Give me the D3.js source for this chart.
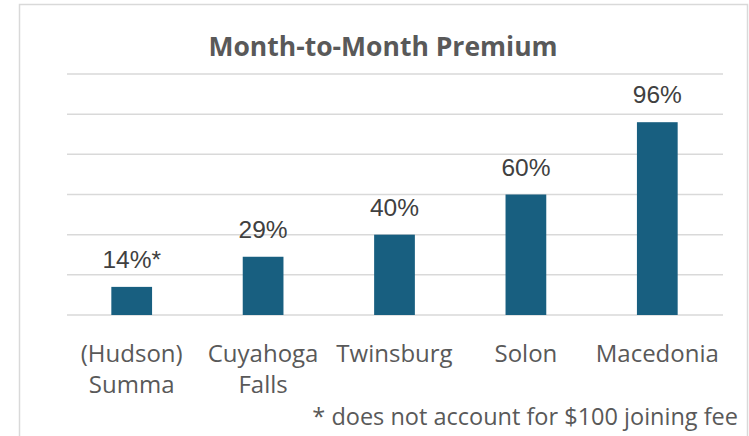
<!DOCTYPE html>
<html>
<head>
<meta charset="utf-8">
<script src="https://cdn.jsdelivr.net/npm/d3@7"></script>
<style>
  html, body { margin: 0; padding: 0; background: #fff; }
  svg { display: block; }
</style>
</head>
<body>
<svg id="chart" width="749" height="436"></svg>
<script>
// data
var categories = [["(Hudson)", "Summa"], ["Cuyahoga", "Falls"], ["Twinsburg"], ["Solon"], ["Macedonia"]];
var values = [0.14, 0.29, 0.40, 0.60, 0.96];
var valueLabels = ["14%*", "29%", "40%", "60%", "96%"];
var yTicks = [0, 0.2, 0.4, 0.6, 0.8, 1.0, 1.2];
var title = "Month-to-Month Premium";
var footnote = "* does not account for $100 joining fee";

var svg = d3.select("#chart");
var margin = {left: 66, right: 26, top: 74, bottom: 121};
var width = 749, height = 436;

// chart area frame
svg.append("rect")
  .attr("x", 19.5).attr("y", 4.5)
  .attr("width", 728).attr("height", 460)
  .attr("fill", "#fff")
  .attr("stroke", "#d9d9d9").attr("stroke-width", 1.5);

var x = d3.scaleBand()
  .domain(d3.range(values.length))
  .range([margin.left, width - margin.right])
  .paddingInner(0.69).paddingOuter(0.345);

var y = d3.scaleLinear()
  .domain([0, 1.2])
  .range([height - margin.bottom, margin.top]);

// gridlines
svg.append("g").selectAll("line")
  .data(yTicks)
  .join("line")
  .attr("x1", margin.left + 1).attr("x2", width - margin.right)
  .attr("y1", function(d) { return y(d); })
  .attr("y2", function(d) { return y(d); })
  .attr("stroke", "#d9d9d9").attr("stroke-width", 1.5);

// bars
svg.append("g").selectAll("rect")
  .data(values)
  .join("rect")
  .attr("x", function(d, i) { return x(i); })
  .attr("width", x.bandwidth())
  .attr("y", function(d) { return y(d); })
  .attr("height", function(d) { return y(0) - y(d); })
  .attr("fill", "#185f80");

// value labels
svg.append("g").selectAll("text")
  .data(values)
  .join("text")
  .attr("x", function(d, i) { return x(i) + x.bandwidth() / 2; })
  .attr("y", function(d) { return y(d) - 19; })
  .attr("text-anchor", "middle")
  .attr("font-family", "Liberation Sans, Arial, sans-serif")
  .attr("font-size", 24.5)
  .attr("fill", "#404040")
  .text(function(d, i) { return valueLabels[i]; });

// category labels
var cat = svg.append("g").selectAll("text")
  .data(categories)
  .join("text")
  .attr("text-anchor", "middle")
  .attr("font-family", "Open Sans, sans-serif")
  .attr("font-size", 24)
  .attr("fill", "#595959");
cat.selectAll("tspan")
  .data(function(d, i) { return d.map(function(s) { return {s: s, i: i}; }); })
  .join("tspan")
  .attr("x", function(d) { return x(d.i) + x.bandwidth() / 2; })
  .attr("y", function(d, j) { return 362 + j * 31; })
  .text(function(d) { return d.s; });

// title
svg.append("text")
  .attr("x", 383).attr("y", 56)
  .attr("text-anchor", "middle")
  .attr("font-family", "Open Sans, sans-serif")
  .attr("font-weight", "bold")
  .attr("font-size", 26.5)
  .attr("fill", "#595959")
  .text(title);

// footnote
svg.append("text")
  .attr("x", 738).attr("y", 425)
  .attr("text-anchor", "end")
  .attr("font-family", "Open Sans, sans-serif")
  .attr("font-size", 23.5)
  .attr("fill", "#595959")
  .text(footnote);
</script>
</body>
</html>
